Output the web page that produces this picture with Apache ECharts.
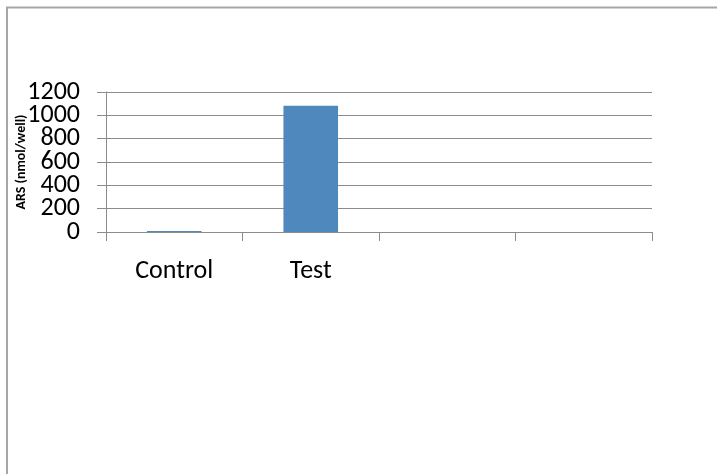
<!DOCTYPE html>
<html>
<head>
<meta charset="utf-8">
<script src="https://cdn.jsdelivr.net/npm/echarts@6/dist/echarts.min.js"></script>
<style>
  html, body { margin: 0; padding: 0; background: #fff; }
  #chart { width: 717px; height: 474px; }
</style>
</head>
<body>
<div id="chart"></div>
<script>
// Category slots on the x axis (the last two are empty)
const categories = ['Control', 'Test', '', ''];
// ARS per well for each category
const arsValues = [8, 1083, null, null];
// Value axis range
const yMin = 0;
const yMax = 1200;
const yStep = 200;

const FONT = 'Carlito, "Open Sans", "Liberation Sans", sans-serif';

// Plot box in pixels
const PLOT = { left: 106, right: 65, top: 92, bottom: 242 };
const stepPx = (474 - PLOT.top - PLOT.bottom) / ((yMax - yMin) / yStep);

const labelStyle = {
  margin: 26,
  color: '#000',
  fontFamily: FONT,
  fontSize: 26,
  showMinLabel: true,
  showMaxLabel: true,
  hideOverlap: false
};

const chart = echarts.init(document.getElementById('chart'), null, { renderer: 'canvas' });

chart.setOption({
  animation: false,
  backgroundColor: '#ffffff',
  grid: [
    { left: PLOT.left, right: PLOT.right, top: PLOT.top, bottom: PLOT.bottom, containLabel: false, outerBoundsMode: 'none' },
    // Companion grid, one step taller at each end, carrying the odd tick labels
    { left: PLOT.left, right: PLOT.right, top: PLOT.top - stepPx, bottom: PLOT.bottom - stepPx, containLabel: false, outerBoundsMode: 'none' }
  ],
  xAxis: [
    {
      type: 'category',
      gridIndex: 0,
      data: categories,
      axisLine: { show: true, lineStyle: { color: '#8c8c8c', width: 1 } },
      axisTick: { show: true, alignWithLabel: false, length: 9, lineStyle: { color: '#8c8c8c' } },
      axisLabel: {
        margin: 26,
        color: '#000',
        fontFamily: FONT,
        fontSize: 26,
        interval: 0,
        hideOverlap: false
      },
      splitLine: { show: false }
    },
    {
      type: 'category',
      gridIndex: 1,
      data: categories,
      show: false
    }
  ],
  yAxis: [
    {
      type: 'value',
      gridIndex: 0,
      min: yMin,
      max: yMax,
      interval: yStep,
      name: 'ARS (nmol/well)',
      nameLocation: 'middle',
      nameGap: 78,
      nameMoveOverlap: false,
      nameRotate: 90,
      nameTextStyle: {
        color: '#000',
        fontFamily: FONT,
        fontWeight: 'bold',
        fontSize: 14
      },
      axisLine: { show: true, lineStyle: { color: '#8c8c8c', width: 1 } },
      axisTick: { show: true, length: 9, lineStyle: { color: '#8c8c8c' } },
      axisLabel: Object.assign({}, labelStyle, {
        formatter: (v) => (v % (2 * yStep) === 0 ? String(v) : '')
      }),
      splitLine: { show: true, lineStyle: { color: '#8c8c8c', width: 1 } }
    },
    {
      type: 'value',
      gridIndex: 1,
      min: yMin - yStep,
      max: yMax + yStep,
      interval: 2 * yStep,
      axisLine: { show: false },
      axisTick: { show: false },
      splitLine: { show: false },
      axisLabel: Object.assign({}, labelStyle, {
        formatter: (v) => (v > yMin && v < yMax ? String(v) : '')
      })
    }
  ],
  series: [{
    type: 'bar',
    xAxisIndex: 0,
    yAxisIndex: 0,
    data: arsValues,
    barWidth: '40%',
    itemStyle: { color: '#4f88bc' }
  }],
  graphic: [
    {
      type: 'polyline',
      silent: true,
      shape: { points: [[7, 474], [7, 7.5], [717, 7.5]] },
      style: { stroke: '#a6a6a6', lineWidth: 2, fill: null }
    }
  ]
});
</script>
</body>
</html>
